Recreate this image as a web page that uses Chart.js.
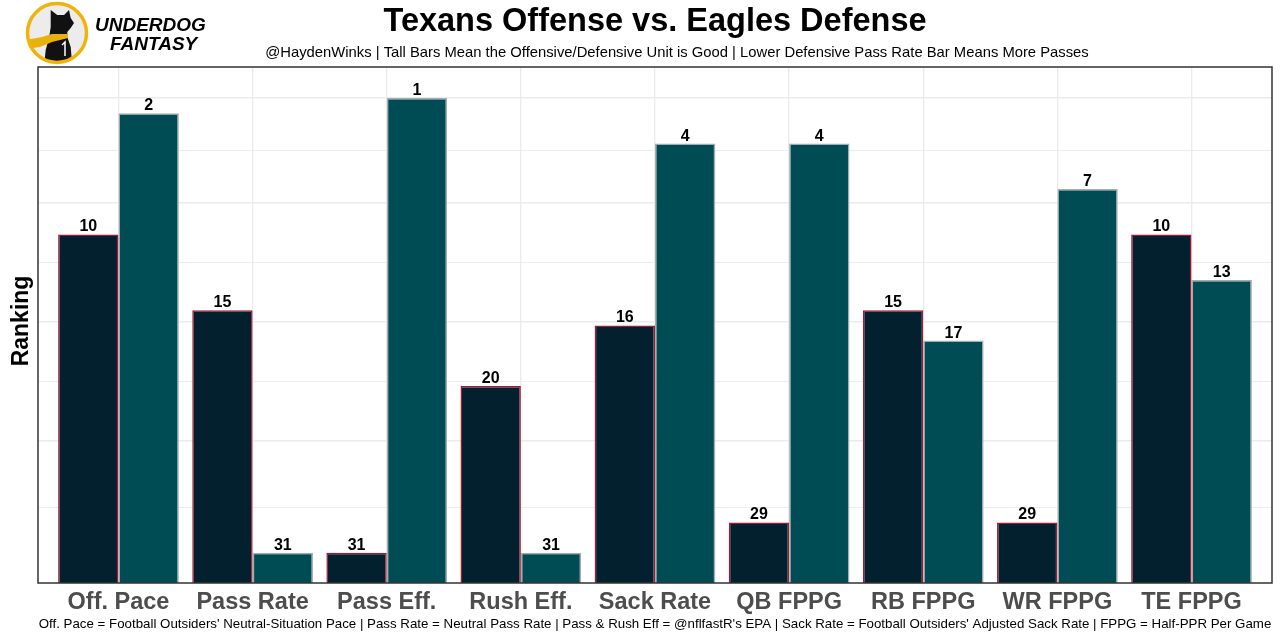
<!DOCTYPE html>
<html>
<head>
<meta charset="utf-8">
<script src="https://cdn.jsdelivr.net/npm/chart.js@4.4.0/dist/chart.umd.min.js"></script>
<style>
    html, body { margin: 0; padding: 0; background: #ffffff; }
    #wrap { width: 1280px; height: 640px; position: relative; }
</style>
</head>
<body>
<div id="wrap"><canvas id="chart" width="1280" height="640"></canvas></div>
<script>
// categories and ranks (1 = best)
const categories = ['Off. Pace', 'Pass Rate', 'Pass Eff.', 'Rush Eff.', 'Sack Rate', 'QB FPPG', 'RB FPPG', 'WR FPPG', 'TE FPPG'];
const offenseRanks = [10, 15, 31, 20, 16, 29, 15, 29, 10];
const defenseRanks = [2, 31, 1, 31, 4, 4, 17, 7, 13];
// y values where the horizontal grid lines sit
const gridValues = [4.95, 9.4, 13.3, 17.25, 21.15, 25.1, 28.55, 32.05];

const titleText = 'Texans Offense vs. Eagles Defense';
const subtitleText = '@HaydenWinks | Tall Bars Mean the Offensive/Defensive Unit is Good | Lower Defensive Pass Rate Bar Means More Passes';
const captionText = "Off. Pace = Football Outsiders' Neutral-Situation Pace | Pass Rate = Neutral Pass Rate | Pass & Rush Eff = @nflfastR's EPA | Sack Rate = Football Outsiders' Adjusted Sack Rate | FPPG = Half-PPR Per Game";

const FONT = '"Liberation Sans", Arial, sans-serif';

// tall bar = good rank, so bar height is 33 - rank
function toPoints(ranks) {
    return ranks.map((r, i) => ({ x: i + 1, y: 33 - r, rank: r }));
}

function poly(ctx, pts) {
    ctx.beginPath();
    ctx.moveTo(pts[0][0], pts[0][1]);
    for (let i = 1; i < pts.length; i++) ctx.lineTo(pts[i][0], pts[i][1]);
    ctx.closePath();
}

// draws the underdog logo in the top left corner
function drawLogo(ctx) {
    ctx.save();
    ctx.beginPath();
    ctx.arc(57, 33, 29.5, 0, Math.PI * 2);
    ctx.fillStyle = '#ececec';
    ctx.fill();
    ctx.clip();

    // dog silhouette
    poly(ctx, [[44, 66], [45.7, 50], [49, 38], [50.7, 27], [50.7, 10], [57.3, 15], [64, 15], [69, 10],
        [70.7, 18], [74, 23], [70.7, 28], [67.3, 32], [67.3, 37], [70.7, 47], [72.3, 66]]);
    ctx.fillStyle = '#111111';
    ctx.fill();

    // scarf
    poly(ctx, [[26, 40], [42, 37], [52, 34], [68, 34], [68, 38], [52, 42], [40, 47], [26, 49]]);
    ctx.fillStyle = '#e8b10b';
    ctx.fill();

    // chest mark
    ctx.beginPath();
    ctx.moveTo(62, 45);
    ctx.lineTo(65, 42);
    ctx.lineTo(65, 56);
    ctx.lineWidth = 1.5;
    ctx.strokeStyle = '#ffffff';
    ctx.stroke();
    ctx.restore();

    ctx.beginPath();
    ctx.arc(57, 33, 29.5, 0, Math.PI * 2);
    ctx.lineWidth = 3.5;
    ctx.strokeStyle = '#efb30a';
    ctx.stroke();

    ctx.fillStyle = '#000000';
    ctx.font = 'italic 900 19px ' + FONT;
    ctx.textAlign = 'left';
    ctx.textBaseline = 'alphabetic';
    ctx.fillText('UNDERDOG', 95, 31);
    ctx.fillText('FANTASY', 110, 50);
}

const textPlugin = {
    id: 'texts',
    afterDraw(chart) {
        const ctx = chart.ctx;
        const area = chart.chartArea;

        // panel border on top of everything
        ctx.save();
        ctx.strokeStyle = '#333333';
        ctx.lineWidth = 1.5;
        ctx.strokeRect(area.left, area.top, area.right - area.left, area.bottom - area.top);

        // rank numbers above the bars
        ctx.fillStyle = '#000000';
        ctx.font = 'bold 16px ' + FONT;
        ctx.textAlign = 'center';
        ctx.textBaseline = 'alphabetic';
        chart.data.datasets.forEach((ds, di) => {
            chart.getDatasetMeta(di).data.forEach((bar, i) => {
                ctx.fillText(String(ds.data[i].rank), bar.x, bar.y - 3);
            });
        });

        // title, subtitle, caption
        ctx.font = 'bold 32.5px ' + FONT;
        ctx.fillText(titleText, 655, 31);
        ctx.font = '14.8px ' + FONT;
        ctx.fillText(subtitleText, 677, 56.5);
        ctx.font = '13.3px ' + FONT;
        ctx.fillText(captionText, 655, 628);

        // y axis title
        ctx.save();
        ctx.translate(28, 321);
        ctx.rotate(-Math.PI / 2);
        ctx.font = 'bold 23px ' + FONT;
        ctx.fillText('Ranking', 0, 0);
        ctx.restore();

        drawLogo(ctx);
        ctx.restore();
    }
};

const ctx = document.getElementById('chart').getContext('2d');
new Chart(ctx, {
    type: 'bar',
    data: {
        datasets: [{
            label: 'Texans Offense',
            data: toPoints(offenseRanks),
            backgroundColor: '#03202f',
            borderColor: '#a71930',
            borderWidth: 1.5,
            borderSkipped: 'start'
        }, {
            label: 'Eagles Defense',
            data: toPoints(defenseRanks),
            backgroundColor: '#004c54',
            borderColor: '#a5acaf',
            borderWidth: 1.5,
            borderSkipped: 'start'
        }]
    },
    options: {
        responsive: false,
        animation: false,
        categoryPercentage: 0.9,
        barPercentage: 1.0,
        layout: { padding: { top: 67, right: 8, left: 0, bottom: 0 } },
        plugins: {
            legend: { display: false },
            tooltip: { enabled: false },
            title: { display: false }
        },
        scales: {
            x: {
                type: 'linear',
                min: 0.4,
                max: 9.6,
                offset: false,
                afterBuildTicks: axis => {
                    axis.ticks = categories.map((c, i) => ({ value: i + 1 }));
                },
                afterFit: axis => { axis.height = 57; },
                ticks: {
                    autoSkip: false,
                    maxRotation: 0,
                    padding: 5,
                    color: '#4d4d4d',
                    font: { family: FONT, size: 23.5, weight: 'bold' },
                    callback: value => categories[value - 1]
                },
                grid: { color: '#ebebeb', lineWidth: 1.3, drawTicks: false, offset: false },
                border: { display: false }
            },
            y: {
                min: 0,
                max: 34.05,
                afterBuildTicks: axis => {
                    axis.ticks = gridValues.map(v => ({ value: v }));
                },
                afterFit: axis => { axis.width = 38; },
                ticks: { display: false },
                grid: {
                    color: '#ebebeb',
                    lineWidth: c => (c.index % 2 ? 1.4 : 0.9),
                    drawTicks: false
                },
                border: { display: false }
            }
        }
    },
    plugins: [textPlugin]
});
</script>
</body>
</html>
